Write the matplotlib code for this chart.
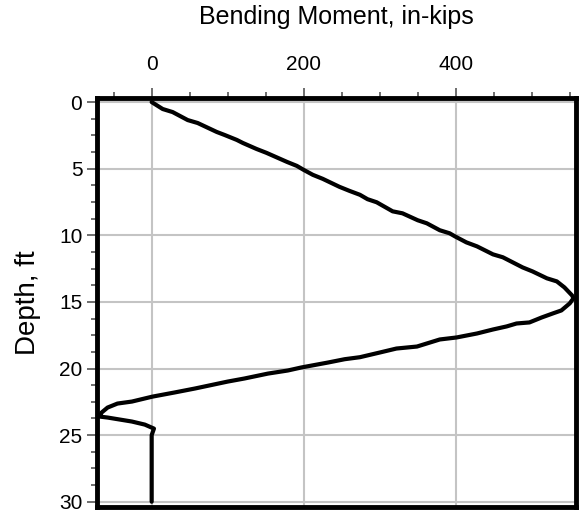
import numpy as np
import matplotlib
matplotlib.use('Agg')
from matplotlib import pyplot as plt
from matplotlib.ticker import MultipleLocator

# bending moment (in-kips) vs depth (ft)
moment = [0, 14.5, 27.6, 47.4, 60.5, 85.5, 96, 112, 120, 138, 151, 178, 191, 200,
          212, 225, 247, 260, 274, 284, 296, 317, 330, 350, 362, 379, 392, 399,
          414, 428, 449, 462, 488, 501, 520, 533, 543, 553, 555, 550, 539, 528,
          513, 497, 480, 467, 449, 428, 401, 379, 349, 322, 300, 274, 254, 232,
          197, 179, 153, 122, 100, 57, 30, 1, -26, -45, -58, -66, -68, -58, -26,
          -9, 3, 0, 0]
depth = [0, 0.52, 0.75, 1.35, 1.57, 2.24, 2.47, 2.84, 3.07, 3.52, 3.81, 4.49, 4.79, 5.09,
         5.46, 5.76, 6.36, 6.66, 6.96, 7.29, 7.52, 8.20, 8.35, 8.87, 9.10, 9.62, 9.85, 10.08,
         10.53, 10.83, 11.43, 11.65, 12.41, 12.71, 13.23, 13.46, 13.91, 14.51, 14.72, 15.11, 15.64, 15.86,
         16.17, 16.54, 16.62, 16.84, 17.07, 17.37, 17.67, 17.82, 18.35, 18.50, 18.80, 19.15, 19.30, 19.55,
         19.92, 20.15, 20.38, 20.75, 20.98, 21.50, 21.80, 22.11, 22.48, 22.63, 22.93, 23.31, 23.61, 23.68, 23.98,
         24.21, 24.51, 25.0, 30.0]

plt.rcParams['font.family'] = ['Liberation Sans', 'DejaVu Sans']

fig = plt.figure(figsize=(5.84, 5.19), dpi=100)
ax = fig.add_axes([0.166, 0.023, 0.820, 0.788])

ax.plot(moment, depth, color='black', lw=3, solid_capstyle='round', zorder=3)

ax.set_xlim(-72, 558)
ax.set_ylim(30.4, -0.3)

ax.xaxis.set_major_locator(MultipleLocator(200))
ax.xaxis.set_minor_locator(MultipleLocator(50))
ax.yaxis.set_major_locator(MultipleLocator(5))
ax.yaxis.set_minor_locator(MultipleLocator(1.25))

ax.xaxis.tick_top()
ax.xaxis.set_label_position('top')
ax.tick_params(which='major', length=7.5, width=1.2, color='#555555', labelsize=15)
ax.tick_params(which='minor', length=4.5, width=1.2, color='#555555')
ax.tick_params(axis='x', which='both', top=True, bottom=False)
ax.tick_params(axis='x', which='major', pad=10)
ax.tick_params(axis='y', which='major', pad=3)

ax.grid(True, which='major', color='#c4c4c4', lw=1.5, zorder=1)
for s in ax.spines.values():
    s.set_linewidth(3.5)
    s.set_color('black')

ax.set_xlabel('Bending Moment, in-kips', fontsize=18, labelpad=22)
ax.set_ylabel('Depth, ft', fontsize=20, labelpad=13)

fig.savefig('out.png', dpi=100)
